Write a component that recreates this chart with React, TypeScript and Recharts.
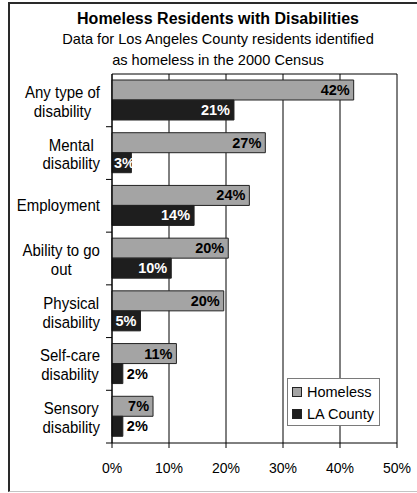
import React from 'react';
import { BarChart, Bar, XAxis, YAxis, CartesianGrid, LabelList } from 'recharts';

const categories = [
  'Any type of\ndisability',
  'Mental\ndisability',
  'Employment',
  'Ability to go\nout',
  'Physical\ndisability',
  'Self-care\ndisability',
  'Sensory\ndisability',
];
const homeless = [42.4, 26.9, 24.1, 20.4, 19.6, 11.3, 7.2];
const laCounty = [21.4, 3.4, 14.4, 10.4, 5.0, 1.9, 1.9];
const xTicks = [0, 10, 20, 30, 40, 50];
const seriesNames = ['Homeless', 'LA County'];

const W = 417;
const H = 493;
const M = { top: 74, right: 20, bottom: 20, left: 0 };
const X_AXIS_H = 30;
const Y_AXIS_W = 112;
const PLOT_LEFT = M.left + Y_AXIS_W;
const PLOT_H = H - M.top - M.bottom - X_AXIS_H;
const BAND = PLOT_H / categories.length;
const FONT = "'Liberation Sans', Arial, sans-serif";
const GRAY = '#a4a4a4';
const DARK = '#1e1e1e';

const data = categories.map((name, i) => ({ name, homeless: homeless[i], la: laCounty[i] }));

let ctx: CanvasRenderingContext2D | null = null;
function textWidth(s: string, font: string) {
  if (!ctx) ctx = document.createElement('canvas').getContext('2d');
  if (!ctx) return s.length * 7;
  ctx.font = font;
  return ctx.measureText(s).width;
}

function CategoryTick(props: any) {
  const { y, payload } = props;
  const lines = String(payload.value).split('\n');
  const font = `15px ${FONT}`;
  const maxW = Math.max(...lines.map(l => textWidth(l, font)));
  const cx = PLOT_LEFT - 12 - maxW / 2;
  const base = lines.length > 1 ? y - 2.5 : y + 5;
  return (
    <g>
      <line x1={PLOT_LEFT - 6} x2={PLOT_LEFT} y1={y + BAND / 2} y2={y + BAND / 2} stroke="#000" />
      {lines.map((l, i) => (
        <text
          key={i}
          transform={`translate(${cx},${base + i * 18.8}) scale(1,1.12)`}
          textAnchor="middle"
          fontFamily={FONT}
          fontSize={15}
          fill="#000"
        >
          {l}
        </text>
      ))}
    </g>
  );
}

function makeLabel(dark: boolean) {
  return function BarLabel(props: any) {
    const { x, y, width, height, value } = props;
    const text = `${Math.round(value)}%`;
    const tw = textWidth(text, `bold 14.5px ${FONT}`);
    const ty = y + height / 2 + 5;
    let tx = x + width - 4;
    let anchor: 'start' | 'end' = 'end';
    let fill = dark ? '#fff' : '#000';
    if (dark && width < tw + 6) {
      if (width >= 15) {
        tx = x + 2;
        anchor = 'start';
      } else {
        tx = x + width + 4;
        anchor = 'start';
        fill = '#000';
      }
    }
    return (
      <text x={tx} y={ty} textAnchor={anchor} fontFamily={FONT} fontSize={14.5} fontWeight="bold" fill={fill}>
        {text}
      </text>
    );
  };
}

function LegendBox() {
  const items = [
    { label: seriesNames[0], color: GRAY },
    { label: seriesNames[1], color: DARK },
  ];
  return (
    <div
      style={{
        position: 'absolute',
        left: 287,
        top: 378,
        width: 91,
        height: 46,
        border: '1px solid #7a7a7a',
        background: '#fff',
        fontFamily: FONT,
        fontSize: 14.5,
      }}
    >
      {items.map((it, i) => (
        <div key={it.label} style={{ position: 'absolute', left: 4, top: 3 + i * 21.6, height: 20, display: 'flex', alignItems: 'center', whiteSpace: 'nowrap' }}>
          <span style={{ display: 'inline-block', width: 8, height: 8, background: it.color, border: '1px solid #222', marginRight: 5 }} />
          <span>{it.label}</span>
        </div>
      ))}
    </div>
  );
}

export default function App() {
  return (
    <div style={{ position: 'relative', width: W, height: H, overflow: 'hidden', background: '#fff' }}>
      <style>{`body{margin:0;overflow:hidden}`}</style>
      <div
        style={{
          position: 'absolute',
          left: 8,
          top: 2,
          width: 430,
          height: 487,
          borderLeft: '2px solid #2a2a2a',
          borderTop: '2px solid #2a2a2a',
          borderBottom: '1px solid #c4c4c4',
        }}
      />
      <svg width={W} height={74} style={{ position: 'absolute', left: 0, top: 0 }}>
        <text x={218} y={23.5} textAnchor="middle" fontFamily={FONT} fontSize={16} fontWeight="bold">
          Homeless Residents with Disabilities
        </text>
        <text x={218} y={43.5} textAnchor="middle" fontFamily={FONT} fontSize={14.6}>
          Data for Los Angeles County residents identified
        </text>
        <text x={218} y={64.5} textAnchor="middle" fontFamily={FONT} fontSize={14.6}>
          as homeless in the 2000 Census
        </text>
      </svg>
      <div style={{ position: 'absolute', left: 0, top: 0 }}>
        <BarChart width={W} height={H} data={data} layout="vertical" margin={M} barSize={20} barGap={0}>
          <CartesianGrid
            stroke="#000"
            horizontalCoordinatesGenerator={({ offset }: any) => [offset.top]}
          />
          <XAxis
            type="number"
            domain={[0, 50]}
            ticks={xTicks}
            tickFormatter={(v: number) => `${v}%`}
            axisLine={{ stroke: '#000' }}
            tickLine={{ stroke: '#000' }}
            tickSize={5}
            tickMargin={15}
            height={X_AXIS_H}
            tick={{ fill: '#000', fontSize: 14, fontFamily: FONT }}
          />
          <YAxis
            type="category"
            dataKey="name"
            width={Y_AXIS_W}
            axisLine={{ stroke: '#000' }}
            tickLine={false}
            interval={0}
            tick={<CategoryTick />}
          />
          <Bar dataKey="homeless" name={seriesNames[0]} fill={GRAY} stroke="#222" strokeWidth={1} isAnimationActive={false}>
            <LabelList dataKey="homeless" content={makeLabel(false)} />
          </Bar>
          <Bar dataKey="la" name={seriesNames[1]} fill={DARK} stroke="#222" strokeWidth={1} isAnimationActive={false}>
            <LabelList dataKey="la" content={makeLabel(true)} />
          </Bar>
        </BarChart>
      </div>
      <LegendBox />
    </div>
  );
}
